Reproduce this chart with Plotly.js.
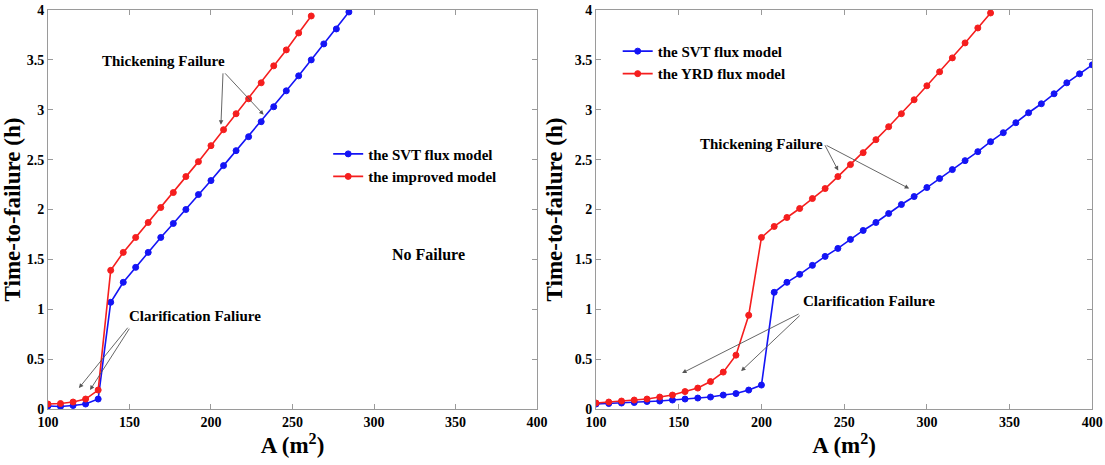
<!DOCTYPE html>
<html>
<head>
<meta charset="utf-8">
<script src="https://cdn.plot.ly/plotly-3.0.1.min.js"></script>
<style>html,body{margin:0;padding:0;background:#fff;}#chart{width:1105px;height:465px;}</style>
</head>
<body>
<div id="chart"></div>
<script>
// Area values (m^2)
const areaX = [100, 107.7, 115.4, 123.1, 130.8, 138.5, 146.2, 153.8, 161.5, 169.2,
  176.9, 184.6, 192.3, 200, 207.7, 215.4, 223.1, 230.8, 238.5, 246.2,
  253.8, 261.5, 269.2, 276.9, 284.6, 292.3, 300, 307.7, 315.4, 323.1,
  330.8, 338.5, 346.2, 353.8, 361.5, 369.2, 376.9, 384.6, 392.3, 400];

// Left panel: time-to-failure (h)
const leftSVT = [0.03, 0.025, 0.035, 0.05, 0.10, 1.07, 1.27, 1.42, 1.57, 1.72,
  1.86, 2.00, 2.15, 2.29, 2.44, 2.59, 2.73, 2.88, 3.03, 3.19,
  3.34, 3.50, 3.66, 3.81, 3.98];
const leftImproved = [0.05, 0.055, 0.07, 0.10, 0.19, 1.39, 1.57, 1.72, 1.87, 2.02,
  2.17, 2.33, 2.48, 2.64, 2.80, 2.96, 3.11, 3.27, 3.44, 3.60,
  3.77, 3.94];

// Right panel: time-to-failure (h)
const rightSVT = [0.05, 0.055, 0.06, 0.065, 0.075, 0.08, 0.09, 0.10, 0.11, 0.12,
  0.14, 0.155, 0.19, 0.24, 1.17, 1.27, 1.35, 1.44, 1.53, 1.61,
  1.70, 1.79, 1.87, 1.96, 2.05, 2.13, 2.22, 2.31, 2.40, 2.49,
  2.58, 2.68, 2.77, 2.87, 2.97, 3.06, 3.16, 3.27, 3.36, 3.45];
const rightYRD = [0.06, 0.07, 0.08, 0.09, 0.10, 0.12, 0.14, 0.175, 0.21, 0.275,
  0.37, 0.54, 0.94, 1.72, 1.83, 1.92, 2.01, 2.11, 2.21, 2.33,
  2.45, 2.57, 2.70, 2.83, 2.96, 3.10, 3.24, 3.38, 3.52, 3.67,
  3.82, 3.97];

const seriesNames = {
  svt: 'the SVT flux model',
  improved: 'the improved model',
  yrd: 'the YRD flux model'
};

const BLUE = 'rgb(20,20,245)';
const RED = 'rgb(245,30,30)';
const FONT = 'Liberation Serif, Times New Roman, serif';

function series(x, y, name, color, xa, ya, legend) {
  return {
    x: x.slice(0, y.length), y: y, name: name, type: 'scatter', mode: 'lines+markers',
    xaxis: xa, yaxis: ya, legend: legend,
    line: {color: color, width: 1.6},
    marker: {symbol: 'circle', size: 6, color: color, line: {color: color, width: 1}}
  };
}

const data = [
  series(areaX, leftSVT, seriesNames.svt, BLUE, 'x', 'y', 'legend'),
  series(areaX, leftImproved, seriesNames.improved, RED, 'x', 'y', 'legend'),
  series(areaX, rightSVT, seriesNames.svt, BLUE, 'x2', 'y2', 'legend2'),
  series(areaX, rightYRD, seriesNames.yrd, RED, 'x2', 'y2', 'legend2')
];

const tickFont = {family: FONT, size: 14, color: '#000', weight: 'bold'};
const titleFont = {family: FONT, size: 23, color: '#000', weight: 'bold'};

function xaxis(domain, anchor) {
  return {
    domain: domain, anchor: anchor, range: [100, 400], dtick: 50, tick0: 100,
    showline: true, linecolor: '#9a9a9a', linewidth: 1, mirror: 'ticks',
    ticks: 'inside', ticklen: 5, tickcolor: '#9a9a9a', showgrid: false, zeroline: false,
    tickfont: tickFont, automargin: false,
    title: {text: 'A (m<sup>2</sup>)', font: titleFont, standoff: 3}
  };
}
function yaxis(domain, anchor) {
  return {
    domain: domain, anchor: anchor, range: [0, 4], dtick: 0.5, tick0: 0,
    showline: true, linecolor: '#9a9a9a', linewidth: 1, mirror: 'ticks',
    ticks: 'inside', ticklen: 5, tickcolor: '#9a9a9a', showgrid: false, zeroline: false,
    tickfont: tickFont, automargin: false,
    title: {text: 'Time-to-failure (h)', font: titleFont, standoff: 5}
  };
}

const annFont = {family: FONT, size: 15, color: '#000', weight: 'bold'};
function label(text, xr, yr, x, y, size) {
  return {text: text, xref: xr, yref: yr, x: x, y: y, showarrow: false,
    font: Object.assign({}, annFont, size ? {size: size} : {})};
}
function arrow(xr, yr, x, y, ax, ay) {
  return {text: '', xref: xr, yref: yr, x: x, y: y, axref: xr, ayref: yr, ax: ax, ay: ay,
    showarrow: true, arrowhead: 2, arrowsize: 1, arrowwidth: 0.9, arrowcolor: '#555', standoff: 0};
}

const layout = {
  width: 1105, height: 465,
  margin: {l: 0, r: 0, t: 0, b: 0},
  paper_bgcolor: '#fff', plot_bgcolor: '#fff',
  font: {family: FONT, color: '#000'},
  xaxis: xaxis([0.0434, 0.486], 'y'),
  yaxis: yaxis([0.1204, 0.9785], 'x'),
  xaxis2: xaxis([0.5394, 0.9885], 'y2'),
  yaxis2: yaxis([0.1204, 0.9785], 'x2'),
  legend: {x: 0.297, y: 0.704, xanchor: 'left', yanchor: 'top', bgcolor: 'rgba(0,0,0,0)',
    font: {family: FONT, size: 15, color: '#000', weight: 'bold'}, itemwidth: 30, tracegroupgap: 0},
  legend2: {x: 0.559, y: 0.925, xanchor: 'left', yanchor: 'top', bgcolor: 'rgba(0,0,0,0)',
    font: {family: FONT, size: 15, color: '#000', weight: 'bold'}, itemwidth: 30, tracegroupgap: 0},
  annotations: [
    label('Thickening Failure', 'x', 'y', 170.9, 3.49),
    arrow('x', 'y', 206.1, 2.85, 207.4, 3.38),
    arrow('x', 'y', 232.3, 2.95, 207.8, 3.38),
    label('Clarification Faliure', 'x', 'y', 190.2, 0.93),
    arrow('x', 'y', 119.0, 0.21, 149.7, 0.83),
    arrow('x', 'y', 125.8, 0.19, 150.5, 0.82),
    label('No Failure', 'x', 'y', 333.5, 1.55, 16),
    label('Thickening Failure', 'x2', 'y2', 199.8, 2.66),
    arrow('x2', 'y2', 246.4, 2.39, 237.9, 2.66),
    arrow('x2', 'y2', 289.3, 2.21, 238.5, 2.65),
    label('Clarification Failure', 'x2', 'y2', 264.9, 1.08),
    arrow('x2', 'y2', 152.0, 0.36, 223.4, 0.96),
    arrow('x2', 'y2', 187.7, 0.38, 224.0, 0.95)
  ]
};

Plotly.newPlot('chart', data, layout, {displayModeBar: false, staticPlot: true});
</script>
</body>
</html>
